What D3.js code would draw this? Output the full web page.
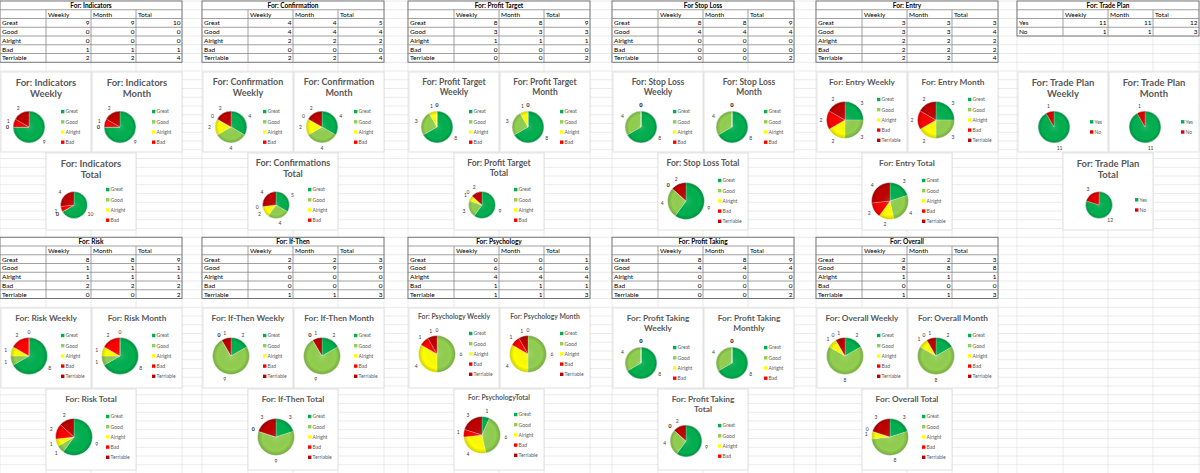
<!DOCTYPE html>
<html>
<head>
<meta charset="utf-8">
<script src="https://cdn.jsdelivr.net/npm/d3@7"></script>
<style>
  body { margin: 0; background: #fff; }
  svg text { font-family: Lato, "Open Sans", sans-serif; }
  .cell { font-size: 6.5px; fill: #000; }
  .cell.bold { font-weight: 700; }
  .ttl { font-weight: 700; fill: #595959; }
  .lbl { font-size: 5px; fill: #404040; }
  .leg { font-size: 5px; fill: #595959; }
</style>
</head>
<body>
<svg id="sheet" width="1200" height="473"></svg>
<script>
// categories
var ratings = ["Great", "Good", "Alright", "Bad", "Terriable"];
var yesNo = ["Yes", "No"];
var periods = ["Weekly", "Month", "Total"];

// values: [weekly, month, total], each in category order
var indicators   = [[9, 0, 0, 1, 2], [9, 0, 0, 1, 2], [10, 0, 0, 1, 4]];
var confirmation = [[4, 4, 2, 0, 2], [4, 4, 2, 0, 2], [5, 4, 2, 0, 4]];
var profitTarget = [[8, 3, 1, 0, 0], [8, 3, 1, 0, 0], [9, 3, 1, 0, 2]];
var stopLoss     = [[8, 4, 0, 0, 0], [8, 4, 0, 0, 0], [9, 4, 0, 0, 2]];
var entry        = [[3, 3, 2, 2, 2], [3, 3, 2, 2, 2], [3, 4, 2, 2, 4]];
var tradePlan    = [[11, 1], [11, 1], [12, 3]];
var risk         = [[8, 1, 1, 2, 0], [8, 1, 1, 2, 0], [9, 1, 1, 2, 2]];
var ifThen       = [[2, 9, 0, 0, 1], [2, 9, 0, 0, 1], [3, 9, 0, 0, 3]];
var psychology   = [[0, 6, 4, 1, 1], [0, 6, 4, 1, 1], [1, 6, 4, 1, 3]];
var profitTaking = [[8, 4, 0, 0, 0], [8, 4, 0, 0, 0], [9, 4, 0, 0, 2]];
var overall      = [[2, 8, 1, 0, 1], [2, 8, 1, 0, 1], [3, 8, 1, 0, 3]];

var sections = [
  {name: "For: Indicators", cats: ratings, vals: indicators, legend: [4, 4, 4], group: 0, row: 0, size: 9.5,
   titles: ["For: Indicators\nWeekly", "For: Indicators\nMonth", "For: Indicators\nTotal"]},
  {name: "For: Confirmation", cats: ratings, vals: confirmation, legend: [4, 4, 4], group: 1, row: 0, size: 9,
   titles: ["For: Confirmation\nWeekly", "For: Confirmation\nMonth", "For: Confirmations\nTotal"]},
  {name: "For: Profit Target", cats: ratings, vals: profitTarget, legend: [4, 4, 4], group: 2, row: 0, size: 8.5,
   titles: ["For: Profit Target\nWeekly", "For: Profit Target\nMonth", "For: Profit Target\nTotal"]},
  {name: "For Stop Loss", cats: ratings, vals: stopLoss, legend: [4, 4, 5], group: 3, row: 0, size: 8.5,
   titles: ["For: Stop Loss\nWeekly", "For: Stop Loss\nMonth", "For: Stop Loss Total"]},
  {name: "For: Entry", cats: ratings, vals: entry, legend: [5, 5, 5], group: 4, row: 0, size: 8.3,
   titles: ["For: Entry Weekly", "For: Entry Month", "For: Entry Total"]},
  {name: "For: Trade Plan", cats: yesNo, vals: tradePlan, legend: [2, 2, 2], group: 5, row: 0, size: 9.5, wide: true,
   titles: ["For: Trade Plan\nWeekly", "For: Trade Plan\nMonth", "For: Trade Plan\nTotal"]},
  {name: "For: Risk", cats: ratings, vals: risk, legend: [5, 5, 5], group: 0, row: 1, size: 8.3,
   titles: ["For: Risk Weekly", "For: Risk Month", "For: Risk Total"]},
  {name: "For: If-Then", cats: ratings, vals: ifThen, legend: [5, 5, 5], group: 1, row: 1, size: 8.3,
   titles: ["For: If-Then Weekly", "For: If-Then Month", "For: If-Then Total"]},
  {name: "For: Psychology", cats: ratings, vals: psychology, legend: [5, 5, 5], group: 2, row: 1, size: 6.8,
   titles: ["For: Psychology Weekly", "For: Psychology Month", "For: PsychologyTotal"]},
  {name: "For: Profit Taking", cats: ratings, vals: profitTaking, legend: [4, 4, 4], group: 3, row: 1, size: 8.3,
   titles: ["For: Profit Taking\nWeekly", "For: Profit Taking\nMonthly", "For: Profit Taking\nTotal"]},
  {name: "For: Overall", cats: ratings, vals: overall, legend: [5, 5, 5], group: 4, row: 1, size: 8.3,
   titles: ["For: Overall Weekly", "For: Overall Month", "For: Overall Total"]}
];

var color = d3.scaleOrdinal()
  .domain(ratings.concat(yesNo))
  .range(["#00b050", "#92d050", "#ffff00", "#ff0000", "#c00000", "#00b050", "#e00000"]);

// sheet layout
var ROW_H = 8.75, Y0 = 1;
var groupX = [0, 202, 408, 612, 816, 1017];
var colX = [0, 46, 91, 136, 182];

var svg = d3.select("#sheet");
var rowY = d3.scaleLinear().domain([0, 1]).range([Y0, Y0 + ROW_H]);

var grad = svg.append("defs").append("radialGradient").attr("id", "shade");
grad.append("stop").attr("offset", "0%").attr("stop-color", "#fff").attr("stop-opacity", 0.12);
grad.append("stop").attr("offset", "75%").attr("stop-color", "#000").attr("stop-opacity", 0);
grad.append("stop").attr("offset", "100%").attr("stop-color", "#000").attr("stop-opacity", 0.2);

// grid lines of the sheet
svg.append("g").selectAll("line").data(d3.range(0, 55)).join("line")
  .attr("x1", 0).attr("x2", 1200)
  .attr("y1", function(i) { return rowY(i); }).attr("y2", function(i) { return rowY(i); })
  .attr("stroke", "#dedede").attr("stroke-width", 0.6);
var vlines = [];
groupX.forEach(function(g) { colX.forEach(function(c) { vlines.push(g + c); }); });
svg.append("g").selectAll("line").data(vlines).join("line")
  .attr("x1", function(d) { return d; }).attr("x2", function(d) { return d; })
  .attr("y1", 0).attr("y2", 473)
  .attr("stroke", "#dedede").attr("stroke-width", 0.6);

function drawTable(sec) {
  var x0 = groupX[sec.group];
  var r0 = sec.row ? 27 : 0;
  var g = svg.append("g").attr("transform", "translate(" + x0 + ",0)");
  var n = 2 + sec.cats.length;
  var yTop = rowY(r0), yBot = rowY(r0 + n);
  g.append("rect").attr("x", 0).attr("y", yTop).attr("width", colX[4]).attr("height", yBot - yTop)
    .attr("fill", "#fff").attr("stroke", "#666").attr("stroke-width", 0.9);
  // row separators
  g.selectAll(".hr").data(d3.range(1, n)).join("line")
    .attr("x1", 0).attr("x2", colX[4])
    .attr("y1", function(i) { return rowY(r0 + i); }).attr("y2", function(i) { return rowY(r0 + i); })
    .attr("stroke", "#888").attr("stroke-width", 0.8);
  // column separators below the merged title
  g.selectAll(".vr").data(colX.slice(1, 4)).join("line")
    .attr("x1", function(d) { return d; }).attr("x2", function(d) { return d; })
    .attr("y1", rowY(r0 + 1)).attr("y2", yBot)
    .attr("stroke", "#888").attr("stroke-width", 0.8);
  g.append("text").attr("class", "cell bold")
    .attr("x", colX[4] / 2).attr("y", rowY(r0 + 1) - 2)
    .attr("text-anchor", "middle").text(sec.name);
  g.selectAll(".hd").data(periods).join("text").attr("class", "cell")
    .attr("x", function(d, i) { return colX[i + 1] + 2; }).attr("y", rowY(r0 + 2) - 2)
    .text(function(d) { return d; });
  sec.cats.forEach(function(c, ci) {
    var yb = rowY(r0 + 3 + ci) - 2;
    g.append("text").attr("class", "cell").attr("x", 2).attr("y", yb).text(c);
    periods.forEach(function(p, pi) {
      g.append("text").attr("class", "cell").attr("x", colX[pi + 2] - 1.5).attr("y", yb)
        .attr("text-anchor", "end").text(sec.vals[pi][ci]);
    });
  });
}

function drawChart(sec, k) {
  var gx = groupX[sec.group];
  var isTotal = k === 2;
  var bx = gx + [1, 92, 46][k];
  var by = sec.row ? (isTotal ? 389 : 308) : (isTotal ? 153 : 72);
  var bw = 90, bh = sec.row ? (isTotal ? 81 : 80) : (isTotal ? 77 : 80);
  var lines = sec.titles[k].split("\n");
  var size = sec.size;

  var g = svg.append("g").attr("transform", "translate(" + bx + "," + by + ")");
  g.append("rect").attr("width", bw).attr("height", bh)
    .attr("fill", "#fff").attr("stroke", "#d9d9d9").attr("stroke-width", 0.8);

  g.selectAll(".ttl").data(lines).join("text").attr("class", "ttl")
    .attr("x", bw / 2)
    .attr("y", function(d, i) { return 4 + size * 1.05 + i * size * 1.2; })
    .attr("text-anchor", "middle").style("font-size", size + "px")
    .text(function(d) { return d; });

  var cy, r;
  if (lines.length === 2) {
    cy = isTotal ? 52 : 55;
    r = isTotal ? (sec.row ? 16 : 13.5) : 16;
  } else {
    cy = sec.size < 7 ? 46 : 48;
    r = 18.5;
  }
  var cx = sec.wide ? 36 : 28;
  var lx = sec.wide ? 72 : 60;

  var pieData = d3.pie().sort(null).value(function(d) { return d.v; })(
    sec.cats.map(function(c, i) { return {c: c, v: sec.vals[k][i]}; }));
  var arc = d3.arc().innerRadius(0).outerRadius(r);
  var labelArc = d3.arc().innerRadius(r + 5.5).outerRadius(r + 5.5);

  var pg = g.append("g").attr("transform", "translate(" + cx + "," + cy + ")");
  pg.selectAll("path").data(pieData).join("path")
    .attr("d", arc)
    .attr("fill", function(d) { return color(d.data.c); })
    .attr("stroke", "rgba(255,255,255,0.55)").attr("stroke-width", 0.4);
  pg.append("circle").attr("r", r).attr("fill", "url(#shade)")
    .attr("stroke", "rgba(255,255,255,0.45)").attr("stroke-width", 0.8);
  pg.selectAll(".lbl").data(pieData).join("text").attr("class", "lbl")
    .attr("transform", function(d) { return "translate(" + labelArc.centroid(d) + ")"; })
    .attr("dy", "0.35em").attr("text-anchor", "middle")
    .text(function(d) { return d.data.v; });

  var nLeg = sec.legend[k];
  var step = 10.2;
  var ly0 = cy - (nLeg - 1) * step / 2;
  var leg = g.selectAll(".legi").data(sec.cats.slice(0, nLeg)).join("g")
    .attr("transform", function(d, i) { return "translate(" + lx + "," + (ly0 + i * step) + ")"; });
  leg.append("rect").attr("x", 0).attr("y", -1.8).attr("width", 3.4).attr("height", 3.4)
    .attr("fill", function(d) { return color(d); });
  leg.append("text").attr("class", "leg").attr("x", 4.6).attr("dy", "0.35em")
    .text(function(d) { return d; });
}

sections.forEach(function(sec) {
  drawTable(sec);
  [0, 1, 2].forEach(function(k) { drawChart(sec, k); });
});
</script>
</body>
</html>
